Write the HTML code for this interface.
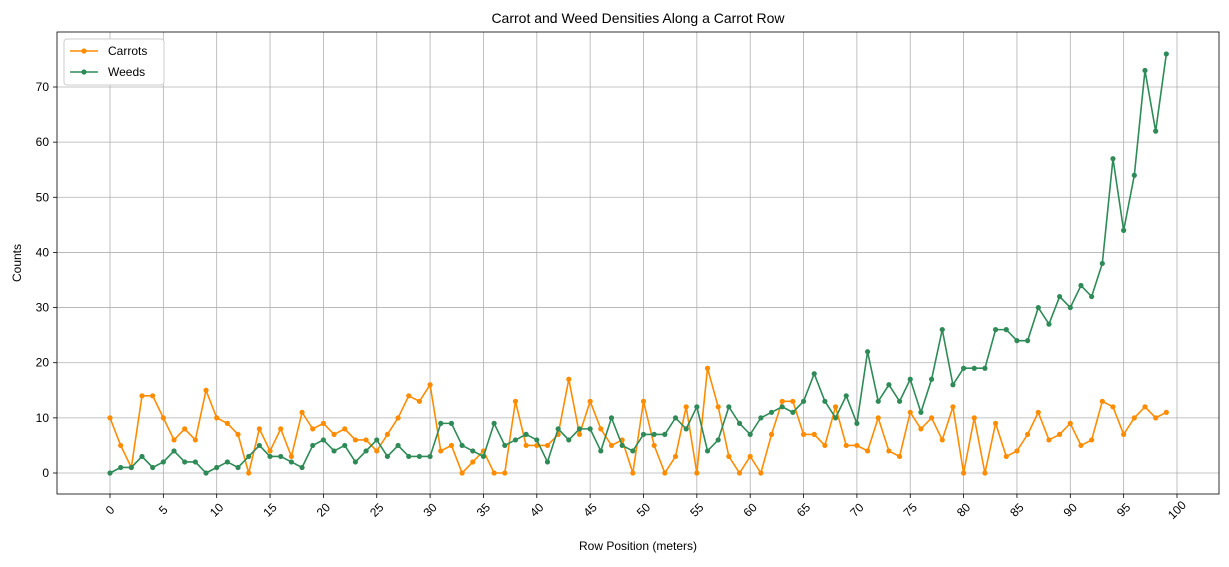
<!DOCTYPE html>
<html><head><meta charset="utf-8"><style>
body{margin:0;background:#fff;font-family:"Liberation Sans","DejaVu Sans",sans-serif}
svg text{font-family:"Liberation Sans","DejaVu Sans",sans-serif;fill:#000}
</style></head><body>
<svg id="chart" width="1229" height="562">
<g id="grid"></g><g id="axes"></g><g id="series"></g><g id="legend"></g>
</svg>
<script>
const carrots=[10,5,1,14,14,10,6,8,6,15,10,9,7,0,8,4,8,3,11,8,9,7,8,6,6,4,7,10,14,13,16,4,5,0,2,4,0,0,13,5,5,5,7,17,7,13,8,5,6,0,13,5,0,3,12,0,19,12,3,0,3,0,7,13,13,7,7,5,12,5,5,4,10,4,3,11,8,10,6,12,0,10,0,9,3,4,7,11,6,7,9,5,6,13,12,7,10,12,10,11];
const weeds=[0,1,1,3,1,2,4,2,2,0,1,2,1,3,5,3,3,2,1,5,6,4,5,2,4,6,3,5,3,3,3,9,9,5,4,3,9,5,6,7,6,2,8,6,8,8,4,10,5,4,7,7,7,10,8,12,4,6,12,9,7,10,11,12,11,13,18,13,10,14,9,22,13,16,13,17,11,17,26,16,19,19,19,26,26,24,24,30,27,32,30,34,32,38,57,44,54,73,62,76];
const xTicks=[0,5,10,15,20,25,30,35,40,45,50,55,60,65,70,75,80,85,90,95,100];
const yTicks=[0,10,20,30,40,50,60,70];
const L=57,R=1219,T=32,B=494;
const xs=v=>110+v*(1177-110)/100;
const ys=v=>473-v*(473-87)/70;
const NS="http://www.w3.org/2000/svg";
function mk(tag,attrs,parent){const e=document.createElementNS(NS,tag);for(const k in attrs)e.setAttribute(k,attrs[k]);parent.appendChild(e);return e;}
const svg=document.getElementById('chart'),grid=document.getElementById('grid'),axes=document.getElementById('axes'),ser=document.getElementById('series'),leg=document.getElementById('legend');
xTicks.forEach(t=>{const x=xs(t);
 const g=mk('line',{x1:x,x2:x,y1:T,y2:B,stroke:'#b0b0b0','stroke-width':0.8},grid);
 
 mk('line',{x1:x,x2:x,y1:B,y2:B+4,stroke:'#000','stroke-width':0.8},axes);
 const cy=B+16;
 const tx=mk('text',{x:x,y:cy+4,'font-size':12,'text-anchor':'middle',transform:`rotate(-45 ${x} ${cy})`},axes);tx.textContent=t;
 
});
yTicks.forEach(t=>{const y=ys(t);
 const g=mk('line',{x1:L,x2:R,y1:y,y2:y,stroke:'#b0b0b0','stroke-width':0.8},grid);
 
 mk('line',{x1:L-4,x2:L,y1:y,y2:y,stroke:'#000','stroke-width':0.8},axes);
 const tx=mk('text',{x:L-8,y:y+4,'font-size':12,'text-anchor':'end'},axes);tx.textContent=t;
 
});
const fr=mk('rect',{x:L,y:T,width:R-L,height:B-T,fill:'none',stroke:'#000','stroke-width':0.8},axes);

function drawSeries(data,color,name){
 const g=mk('g',{},ser);
 
 const pts=data.map((v,i)=>xs(i)+','+ys(v)).join(' ');
 const pl=mk('polyline',{points:pts,fill:'none',stroke:color,'stroke-width':1.6},g);
 
 data.forEach((v,i)=>{const c=mk('circle',{cx:xs(i),cy:ys(v),r:2.6,fill:color},g);
  });
}
drawSeries(carrots,'#ff8c00','carrots');
drawSeries(weeds,'#2e8b57','weeds');
const lb=mk('rect',{x:64,y:39,width:100,height:46,fill:'#fff',stroke:'#ccc',rx:3},leg);

[['Carrots','#ff8c00',51],['Weeds','#2e8b57',72]].forEach(([n,c,y])=>{
 const g=mk('g',{},leg);
 
 mk('line',{x1:70,x2:98,y1:y,y2:y,stroke:c,'stroke-width':1.6},g);
 mk('circle',{cx:84,cy:y,r:2.6,fill:c},g);
 const t=mk('text',{x:108,y:y+4,'font-size':12},g);t.textContent=n;
});
const title=mk('text',{x:638,y:23,'font-size':14,'text-anchor':'middle'},svg);title.textContent='Carrot and Weed Densities Along a Carrot Row';

const xl=mk('text',{x:638,y:550,'font-size':12,'text-anchor':'middle'},svg);xl.textContent='Row Position (meters)';

const yl=mk('text',{x:21,y:263,'font-size':12,'text-anchor':'middle',transform:'rotate(-90 21 263)'},svg);yl.textContent='Counts';

</script>
</body></html>
